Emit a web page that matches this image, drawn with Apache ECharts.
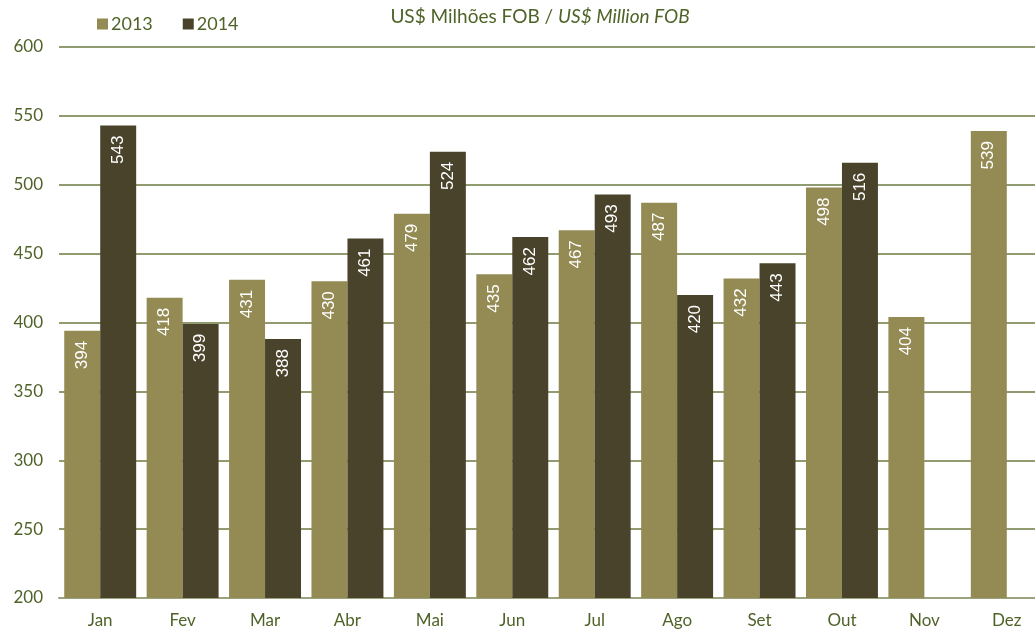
<!DOCTYPE html>
<html>
<head>
<meta charset="utf-8">
<script src="https://cdn.jsdelivr.net/npm/echarts@6/dist/echarts.min.js"></script>
<style>html,body{margin:0;padding:0;background:#fff;}#chart{width:1035px;height:630px;}</style>
</head>
<body>
<div id="chart"></div>
<script>
var categories = ['Jan','Fev','Mar','Abr','Mai','Jun','Jul','Ago','Set','Out','Nov','Dez'];
var values2013 = [394,418,431,430,479,435,467,487,432,498,404,539];
var values2014 = [543,399,388,461,524,462,493,420,443,516,null,null];
var seriesNames = ['2013','2014'];

var textColor = '#4f6228';
var fontFam = 'Lato, "Noto Sans", sans-serif';
var chart = echarts.init(document.getElementById('chart'));
var labelCfg = {
  show: true, position: 'insideTop', rotate: 90, distance: 10,
  align: 'right', verticalAlign: 'middle',
  color: '#ffffff', fontSize: 17, fontFamily: '"Liberation Sans", Arial, sans-serif',
  formatter: function(p){ return p.value == null ? '' : p.value; }
};
chart.setOption({
  animation: false,
  title: {
    text: '{a|US$ Milhões FOB / }{b|US$ Million FOB}',
    left: 535, top: 2, textAlign: 'center',
    textStyle: { rich: {
      a: { color: textColor, fontSize: 19, fontFamily: fontFam, fontWeight: 'normal' },
      b: { color: textColor, fontSize: 19, fontFamily: fontFam, fontStyle: 'italic', fontWeight: 'normal' }
    } }
  },
  legend: {
    left: 92, top: 10, itemWidth: 11, itemHeight: 11, itemGap: 30,
    textStyle: { color: textColor, fontSize: 18, fontFamily: fontFam, padding: [0,0,0,-2] },
    icon: 'rect',
    data: seriesNames
  },
  grid: { left: 59, top: 47, width: 989, height: 551, containLabel: false, outerBoundsMode: 'none' },
  xAxis: {
    type: 'category', data: categories,
    axisLine: { lineStyle: { color: '#9aa27e', width: 2 } },
    axisTick: { show: false },
    axisLabel: { color: textColor, fontSize: 17, fontFamily: fontFam, margin: 14 }
  },
  yAxis: {
    type: 'value', min: 200, max: 600, interval: 50,
    axisLine: { show: false }, axisTick: { show: false },
    axisLabel: { color: textColor, fontSize: 17, fontFamily: fontFam, margin: 16 },
    splitLine: { lineStyle: { color: '#6b7b3f', width: 1.5 } }
  },
  series: [
    { name: seriesNames[0], type: 'bar', data: values2013, barGap: '0%', barCategoryGap: '12.7%',
      itemStyle: { color: '#948a54' }, label: labelCfg },
    { name: seriesNames[1], type: 'bar', data: values2014, barGap: '0%', barCategoryGap: '12.7%',
      itemStyle: { color: '#4a432b' }, label: labelCfg }
  ]
});
</script>
</body>
</html>
